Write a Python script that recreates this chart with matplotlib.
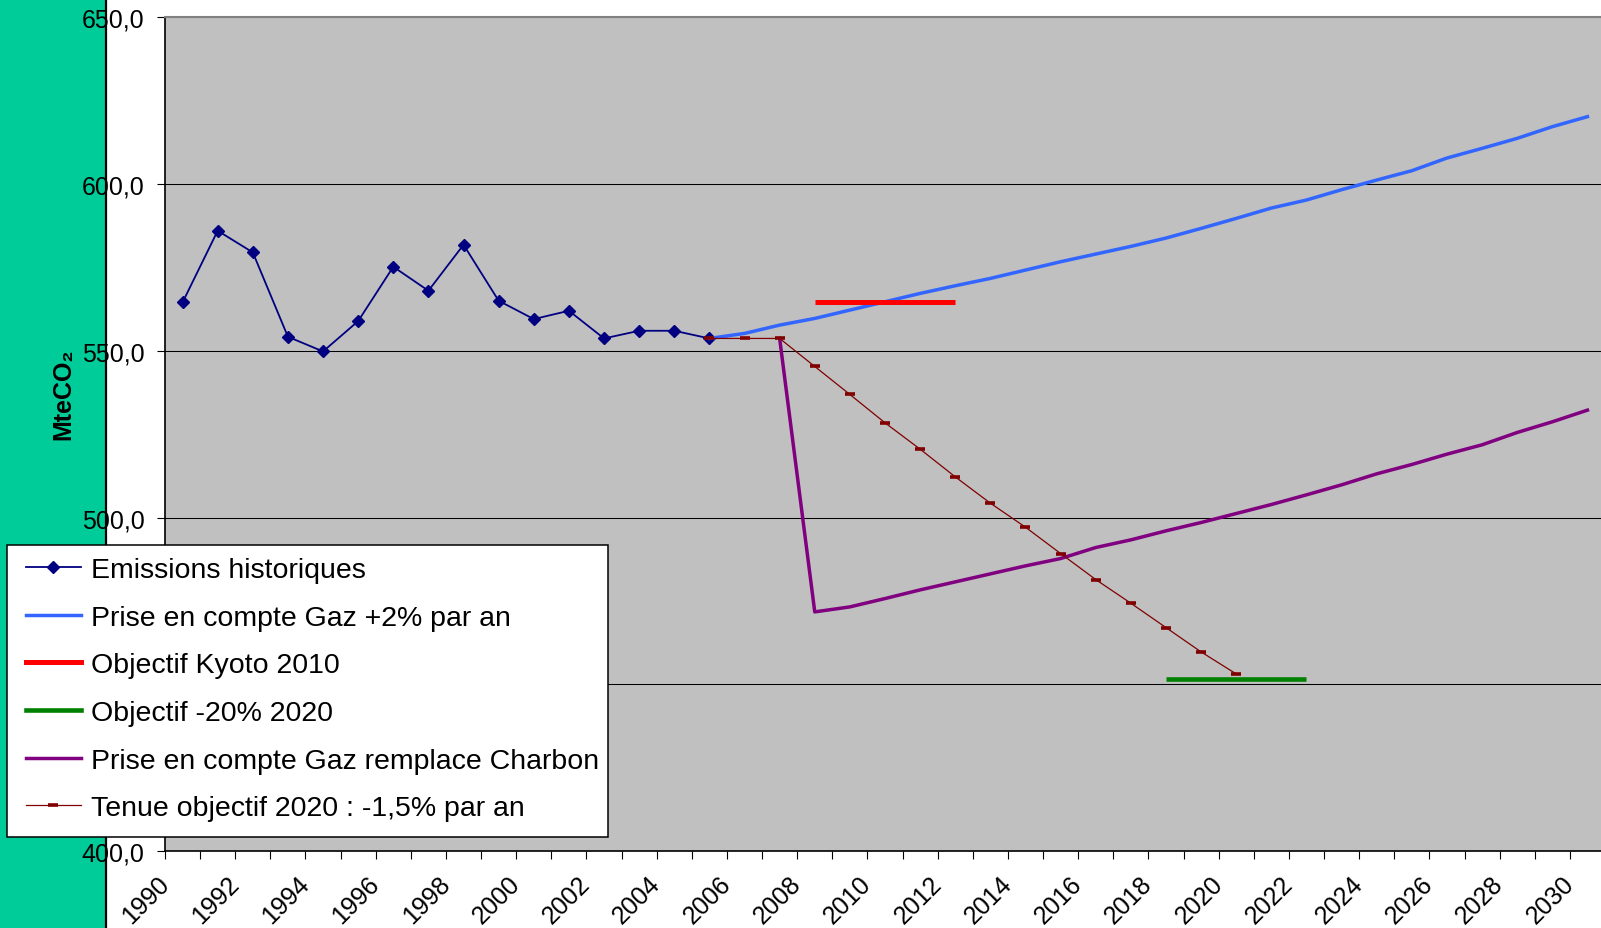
import matplotlib
matplotlib.use("Agg")
import matplotlib.pyplot as plt
import numpy as np
from matplotlib.lines import Line2D
from matplotlib.patches import Rectangle
from matplotlib.transforms import ScaledTranslation, blended_transform_factory

plt.rcParams['font.family'] = ['Liberation Sans', 'DejaVu Sans']

# ---- data -------------------------------------------------------------
annees = list(range(1990, 2031))

hist_annees = list(range(1990, 2006))
hist_valeurs = [564.5, 586.0, 579.5, 554.2, 549.8, 558.9, 575.2, 568.0,
                581.8, 565.0, 559.5, 562.0, 553.7, 556.0, 556.0, 553.7]

gaz_annees = list(range(2005, 2031))
gaz_valeurs = [553.7, 555.2, 557.7, 559.7, 562.2, 564.7, 567.2, 569.5, 571.7,
               574.2, 576.7, 579.0, 581.3, 583.8, 586.7, 589.7, 592.8, 595.2,
               598.3, 601.2, 604.0, 607.8, 610.7, 613.7, 617.2, 620.2]

kyoto_annees = [2008, 2009, 2010, 2011, 2012]
kyoto_valeurs = [564.5, 564.5, 564.5, 564.5, 564.5]

obj2020_annees = [2018, 2019, 2020, 2021, 2022]
obj2020_valeurs = [451.6, 451.6, 451.6, 451.6, 451.6]

charbon_annees = list(range(2007, 2031))
charbon_valeurs = [553.7, 471.7, 473.2, 475.7, 478.3, 480.7, 483.1, 485.5,
                   487.7, 491.0, 493.3, 496.0, 498.5, 501.2, 503.9, 506.8,
                   509.8, 513.1, 515.9, 519.0, 521.8, 525.5, 528.7, 532.2]

tenue_annees = list(range(2005, 2021))
tenue_valeurs = [553.7, 553.7, 553.7, 545.3, 536.9, 528.4, 520.5, 512.2,
                 504.3, 497.1, 489.2, 481.4, 474.3, 467.0, 459.7, 453.1]

y_ticks = [400, 450, 500, 550, 600, 650]
# the 450 label sits behind the legend box, so it is left blank
y_labels = ["400,0", "", "500,0", "550,0", "600,0", "650,0"]
x_labels = [str(a) for a in annees[::2]]

libelles = ["Emissions historiques",
            "Prise en compte Gaz +2% par an",
            "Objectif Kyoto 2010",
            "Objectif -20% 2020",
            "Prise en compte Gaz remplace Charbon",
            "Tenue objectif 2020 : -1,5% par an"]

# ---- figure -----------------------------------------------------------
W, H, DPI = 1601, 929, 100
fig = plt.figure(figsize=(W / DPI, H / DPI), dpi=DPI)
fig.patch.set_facecolor("white")


def box(x0, y0, x1, y1):
    """Pixel box (origin top-left) -> figure fraction rect."""
    return [x0 / W, 1 - y1 / H, (x1 - x0) / W, (y1 - y0) / H]


# green band on the left with its black edge
fig.add_artist(Rectangle((0, 0), 106 / W, 1, transform=fig.transFigure,
                         facecolor="#00CC99", edgecolor="none", zorder=-1))
fig.add_artist(Line2D([106 / W, 106 / W], [0, 1], transform=fig.transFigure,
                      color="black", lw=1.6, zorder=3))

ax = fig.add_axes(box(165, 18.3, 1605, 852))
ax.set_facecolor("#C0C0C0")
ax.set_xlim(-0.5, len(annees) - 0.5)
ax.set_ylim(400, 650)


def idx(liste):
    return [a - annees[0] for a in liste]


ax.plot(idx(hist_annees), hist_valeurs, color="#000080", lw=1.3,
        marker="D", ms=6.2, mfc="#000080", mec="#000080", zorder=3)
ax.plot(idx(gaz_annees), gaz_valeurs, color="#3366FF", lw=2.5, zorder=4)
ax.plot(idx(kyoto_annees), kyoto_valeurs, color="#FF0000", lw=3.6,
        solid_capstyle="butt", zorder=5)
ax.plot(idx(obj2020_annees), obj2020_valeurs, color="#008000", lw=3.3,
        solid_capstyle="butt", zorder=6)
ax.plot(idx(charbon_annees), charbon_valeurs, color="#800080", lw=2.5,
        zorder=7)
ax.plot(idx(tenue_annees), tenue_valeurs, color="#800000", lw=0.9,
        marker="_", ms=6.5, mew=2.6, zorder=8)

# grid and axes
ax.set_yticks(y_ticks)
ax.set_yticklabels(y_labels)
ax.yaxis.grid(True, color="black", lw=0.75)
ax.set_axisbelow(True)
ax.set_xticks(np.arange(-0.5, len(annees), 1.0))
ax.tick_params(axis="x", labelbottom=False, direction="out", length=5.8,
               width=0.8, color="black")
ax.tick_params(axis="y", direction="out", length=5.8, width=0.8,
               color="black", labelsize=18, pad=9)

for s in ("left", "bottom"):
    ax.spines[s].set_color("black")
    ax.spines[s].set_linewidth(1.2)
for s in ("top", "right"):
    ax.spines[s].set_color("#808080")
    ax.spines[s].set_linewidth(1.5)

# rotated year labels, one every two years
trans = blended_transform_factory(ax.transData, ax.transAxes) + \
    ScaledTranslation(-9 / DPI, -20 / DPI, fig.dpi_scale_trans)
for i, lab in zip(range(0, len(annees), 2), x_labels):
    ax.text(i, 0, lab, transform=trans, rotation=45, ha="right", va="top",
            fontsize=18)

# vertical axis title
fig.text(63 / W, 1 - 440 / H, "MteCO₂", rotation=90, ha="center",
         va="bottom", fontsize=18, fontweight="bold")

# legend
fig.add_artist(Rectangle((7 / W, 1 - 838 / H), (607.5 - 7) / W,
                         (838 - 546) / H, transform=fig.transFigure,
                         facecolor="white", edgecolor="black", lw=1.1,
                         zorder=4))
poignees = [
    Line2D([], [], color="#000080", lw=1.3, marker="D", ms=6.2),
    Line2D([], [], color="#3366FF", lw=2.5),
    Line2D([], [], color="#FF0000", lw=3.6),
    Line2D([], [], color="#008000", lw=3.3),
    Line2D([], [], color="#800080", lw=2.5),
    Line2D([], [], color="#800000", lw=0.9, marker="_", ms=6.5, mew=2.6),
]
fig.legend(poignees, libelles, loc="upper left",
           bbox_to_anchor=(25.5 / W, 1 - 558 / H), frameon=False,
           fontsize=20.5, handlelength=1.95, handletextpad=0.36,
           labelspacing=0.76, borderpad=0, borderaxespad=0, numpoints=1)

fig.savefig("out.png", dpi=DPI)
